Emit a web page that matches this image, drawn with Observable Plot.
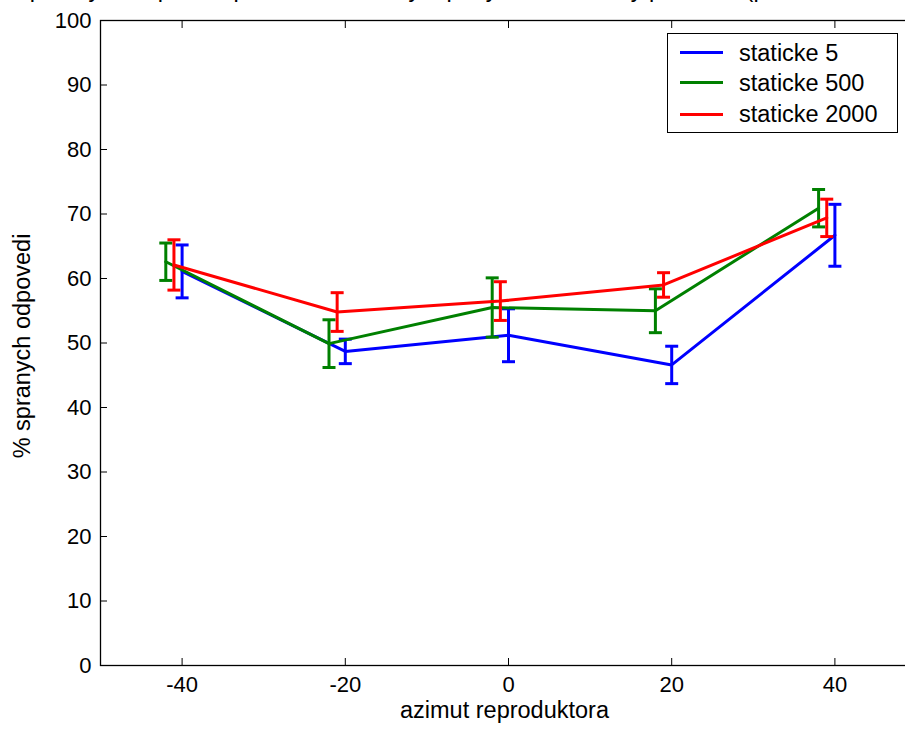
<!DOCTYPE html>
<html>
<head>
<meta charset="utf-8">
<script src="https://cdn.jsdelivr.net/npm/d3@7"></script>
<script src="https://cdn.jsdelivr.net/npm/@observablehq/plot@0.6"></script>
<style>
  html, body { margin: 0; padding: 0; background: #fff; }
  #wrap { position: relative; width: 905px; height: 731px; overflow: hidden; font-family: "Liberation Sans", Arial, sans-serif; }
  #legend { position: absolute; left: 667px; top: 33px; width: 231px; height: 100px; border: 1px solid #000; box-sizing: border-box; background: #fff; }
  .row { position: absolute; left: 0; height: 0; }
  .sw { position: absolute; left: 12px; width: 43px; height: 3px; top: -1.5px; }
  .lab { position: absolute; left: 71px; top: -14px; font-size: 23.5px; line-height: 28px; white-space: nowrap; color: #000; }
</style>
</head>
<body>
<div id="wrap"></div>
<script>
// ---- data ----
const azimuth = [-40, -20, 0, 20, 40];
const seriesNames = ["staticke 5", "staticke 500", "staticke 2000"];
const mean5 = [61.1, 48.7, 51.2, 46.6, 66.7];
const err5 = [4.1, 1.9, 4.1, 2.9, 4.8];
const mean500 = [62.6, 49.9, 55.5, 55.0, 70.9];
const err500 = [2.9, 3.7, 4.6, 3.4, 2.9];
const mean2000 = [62.1, 54.8, 56.5, 59.0, 69.4];
const err2000 = [3.9, 3.0, 3.0, 1.9, 2.9];
const xTicks = [-40, -20, 0, 20, 40];
const yTicks = [0, 10, 20, 30, 40, 50, 60, 70, 80, 90, 100];
const xLabel = "azimut reproduktora";
const yLabel = "% spranych odpovedi";
const title = "% spravnych odpovedi pre staticke zvuky a pohyb, rozne dlzky presledu (priemer cez vsetky osoby)";

// ---- styles ----
const colors = ["#0000ff", "#008000", "#ff0000"];
const shiftPx = [0, -16.3, -8.15];
const means = [mean5, mean500, mean2000];
const errs = [err5, err500, err2000];

const capSymbol = {
  draw(context, size) {
    const w = Math.sqrt(size / Math.PI);
    context.moveTo(-w, 0);
    context.lineTo(w, 0);
  }
};

const marks = [];
means.forEach((m, s) => {
  const rows = azimuth.map((a, i) => ({az: a, mean: m[i], lo: m[i] - errs[s][i], hi: m[i] + errs[s][i]}));
  const common = {stroke: colors[s], strokeWidth: 3, dx: shiftPx[s]};
  marks.push(Plot.line(rows, {x: "az", y: "mean", ...common}));
  marks.push(Plot.ruleX(rows, {x: "az", y1: "lo", y2: "hi", ...common}));
  marks.push(Plot.dot(rows, {x: "az", y: "lo", symbol: capSymbol, r: 6.5, ...common}));
  marks.push(Plot.dot(rows, {x: "az", y: "hi", symbol: capSymbol, r: 6.5, ...common}));
});

const chart = Plot.plot({
  width: 905,
  height: 731,
  marginLeft: 100,
  marginRight: -11,
  marginTop: 20,
  marginBottom: 66,
  style: {fontFamily: "Liberation Sans, Arial, sans-serif", color: "#000", background: "#fff"},
  x: {domain: [-50, 50]},
  y: {domain: [0, 100]},
  marks: [
    Plot.frame({stroke: "#000", strokeWidth: 1.3}),
    Plot.axisY({ticks: yTicks, anchor: "left", tickSize: -7, tickPadding: 16, fontSize: 22, label: null, tickFormat: d => String(d), strokeWidth: 1}),
    Plot.axisX({ticks: xTicks, anchor: "bottom", tickSize: -7, tickPadding: 18, fontSize: 22, label: null, tickFormat: d => String(d), strokeWidth: 1}),
    Plot.axisX({ticks: xTicks, anchor: "top", tickSize: -7, tickPadding: 0, label: null, tickFormat: () => "", strokeWidth: 1}),
    ...marks,
    Plot.text([xLabel], {frameAnchor: "bottom", text: d => d, dy: 52, dx: -4, fontSize: 23.5, fill: "#000"}),
    Plot.text([yLabel], {frameAnchor: "left", text: d => d, textAnchor: "middle", dx: -78, dy: 3, rotate: -90, fontSize: 23.5, fill: "#000"}),
    Plot.text([title], {frameAnchor: "top", text: d => d, dy: -23.5, lineAnchor: "bottom", fontSize: 23.5, fill: "#000"})
  ]
});

const wrap = document.getElementById("wrap");
wrap.appendChild(chart);

// legend
const legend = document.createElement("div");
legend.id = "legend";
const rowY = [18.5, 48.5, 80];
seriesNames.forEach((name, i) => {
  const row = document.createElement("div");
  row.className = "row";
  row.style.top = rowY[i] + "px";
  const sw = document.createElement("div");
  sw.className = "sw";
  sw.style.background = colors[i];
  const lab = document.createElement("div");
  lab.className = "lab";
  lab.textContent = name;
  row.appendChild(sw);
  row.appendChild(lab);
  legend.appendChild(row);
});
wrap.appendChild(legend);
</script>
</body>
</html>
